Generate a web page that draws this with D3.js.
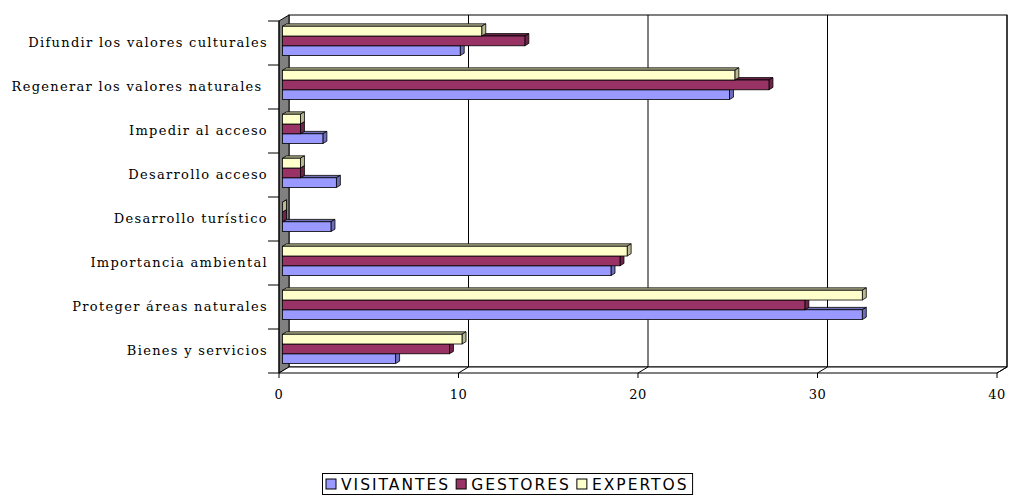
<!DOCTYPE html>
<html lang="es">
<head>
<meta charset="utf-8">
<script src="https://d3js.org/d3.v7.min.js"></script>
<style>
    body { margin: 0; background: #fff; }
    svg { display: block; }
</style>
</head>
<body>
<div id="chart"></div>
<script>
    // categories as Excel lists them (bottom to top)
    const categories = [
        "Bienes y servicios",
        "Proteger áreas naturales",
        "Importancia ambiental",
        "Desarrollo turístico",
        "Desarrollo acceso",
        "Impedir al acceso",
        "Regenerar los valores naturales ",
        "Difundir los valores culturales"
    ];
    const seriesNames = ["VISITANTES", "GESTORES", "EXPERTOS"];
    const visitantes = [6.3, 32.3, 18.3, 2.7, 3.0, 2.25, 24.9, 9.9];
    const gestores   = [9.3, 29.1, 18.8, 0, 1.0, 1.0, 27.1, 13.5];
    const expertos   = [10.0, 32.3, 19.2, 0, 1.0, 1.0, 25.2, 11.1];
    const xTicks = [0, 10, 20, 30, 40];

    const colors = ["#9999FF", "#993366", "#FFFFCC"];
    const seriesValues = [visitantes, gestores, expertos];

    var width = 1009, height = 496;
    var pL = 279, pR = 997, pT = 21, pB = 373;
    var dx = 10, dy = 6;              // wall depth
    var bx = 3.5, by = 2.1;           // bar front plane offset
    var ddx = 4, ddy = 2.4;           // bar depth

    var svg = d3.select("#chart").append("svg")
        .attr("width", width)
        .attr("height", height);

    var x = d3.scaleLinear().domain([0, 40]).range([pL, pR]);
    var y = d3.scaleBand()
        .domain(categories.slice().reverse())
        .range([pT, pB])
        .paddingInner(1 / 3)
        .paddingOuter(1 / 6);
    var ySub = d3.scaleBand()
        .domain(seriesNames.slice().reverse())
        .range([0, y.bandwidth()]);

    // back wall
    svg.append("rect")
        .attr("x", pL + dx).attr("y", pT - dy)
        .attr("width", pR - pL).attr("height", pB - pT)
        .attr("fill", "#fff").attr("stroke", "#000");

    // left side wall
    svg.append("path")
        .attr("d", `M${pL},${pT}L${pL + dx},${pT - dy}L${pL + dx},${pB - dy}L${pL},${pB}Z`)
        .attr("fill", "#808080").attr("stroke", "#000");

    // floor
    svg.append("path")
        .attr("d", `M${pL},${pB}L${pR},${pB}L${pR + dx},${pB - dy}L${pL + dx},${pB - dy}Z`)
        .attr("fill", "#fff").attr("stroke", "#000");

    // gridlines on the back wall and floor
    svg.selectAll(".grid")
        .data(xTicks.slice(1))
        .enter().append("path")
        .attr("d", d => `M${x(d)},${pB}L${x(d) + dx},${pB - dy}L${x(d) + dx},${pT - dy}`)
        .attr("fill", "none").attr("stroke", "#000");

    // x axis ticks and labels
    svg.selectAll(".xt")
        .data(xTicks)
        .enter().append("line")
        .attr("x1", d => x(d)).attr("x2", d => x(d))
        .attr("y1", pB).attr("y2", pB + 5)
        .attr("stroke", "#000");
    svg.selectAll(".xl")
        .data(xTicks)
        .enter().append("text")
        .attr("x", d => x(d)).attr("y", pB + 26)
        .attr("text-anchor", "middle")
        .attr("font-family", "DejaVu Serif")
        .attr("font-size", 13)
        .attr("letter-spacing", 0.5)
        .text(d => d);

    // category ticks
    var tickYs = categories.map((c, i) => pT + i * y.step()).concat([pB]);
    svg.selectAll(".yt")
        .data(tickYs)
        .enter().append("line")
        .attr("x1", pL - 11).attr("x2", pL)
        .attr("y1", d => d).attr("y2", d => d)
        .attr("stroke", "#000");

    // category labels
    svg.selectAll(".yl")
        .data(categories)
        .enter().append("text")
        .attr("x", 268)
        .attr("y", d => y(d) + y.bandwidth() / 2 + 4)
        .attr("text-anchor", "end")
        .attr("font-family", "DejaVu Serif")
        .attr("font-size", 13)
        .attr("letter-spacing", 1.3)
        .style("white-space", "pre")
        .text(d => d);

    // 3D bars: draw lowest bar first so the ones above cover its top face
    var bars = [];
    categories.forEach((c, ci) => {
        seriesNames.forEach((s, si) => {
            bars.push({ cat: c, series: s, si: si, value: seriesValues[si][ci] });
        });
    });

    var g = svg.selectAll(".bar")
        .data(bars)
        .enter().append("g");

    g.each(function(d) {
        var x0 = x(0) + bx, x1 = x(d.value) + bx;
        var y0 = y(d.cat) + ySub(d.series) - by, h = ySub.bandwidth();
        var c = colors[d.si];
        var dark = d3.color(c).darker(0.9);
        var sel = d3.select(this);
        sel.append("path")
            .attr("d", `M${x0},${y0}L${x0 + ddx},${y0 - ddy}L${x1 + ddx},${y0 - ddy}L${x1},${y0}Z`)
            .attr("fill", dark).attr("stroke", "#000").attr("stroke-width", 0.8);
        sel.append("path")
            .attr("d", `M${x1},${y0}L${x1 + ddx},${y0 - ddy}L${x1 + ddx},${y0 + h - ddy}L${x1},${y0 + h}Z`)
            .attr("fill", dark).attr("stroke", "#000").attr("stroke-width", 0.8);
        sel.append("rect")
            .attr("x", x0).attr("y", y0)
            .attr("width", x1 - x0).attr("height", h)
            .attr("fill", c).attr("stroke", "#000").attr("stroke-width", 0.8);
    });

    // left edge line over everything
    svg.append("line")
        .attr("x1", pL).attr("x2", pL)
        .attr("y1", pT).attr("y2", pB)
        .attr("stroke", "#000");

    // legend
    var legend = svg.append("g");
    var lx = 326;
    seriesNames.forEach((s, i) => {
        var it = legend.append("g");
        it.append("rect")
            .attr("x", lx).attr("y", 479)
            .attr("width", 10).attr("height", 10)
            .attr("fill", colors[i]).attr("stroke", "#000");
        var t = it.append("text")
            .attr("x", lx + 15).attr("y", 489.5)
            .attr("font-family", "DejaVu Sans")
            .attr("font-size", 15.5)
            .attr("letter-spacing", 2)
            .text(s);
        lx += 15 + t.node().getComputedTextLength() + 6;
    });
    legend.insert("rect", ":first-child")
        .attr("x", 322.5).attr("y", 473.5)
        .attr("width", lx - 322.5 - 2).attr("height", 21)
        .attr("fill", "#fff").attr("stroke", "#000");
</script>
</body>
</html>
